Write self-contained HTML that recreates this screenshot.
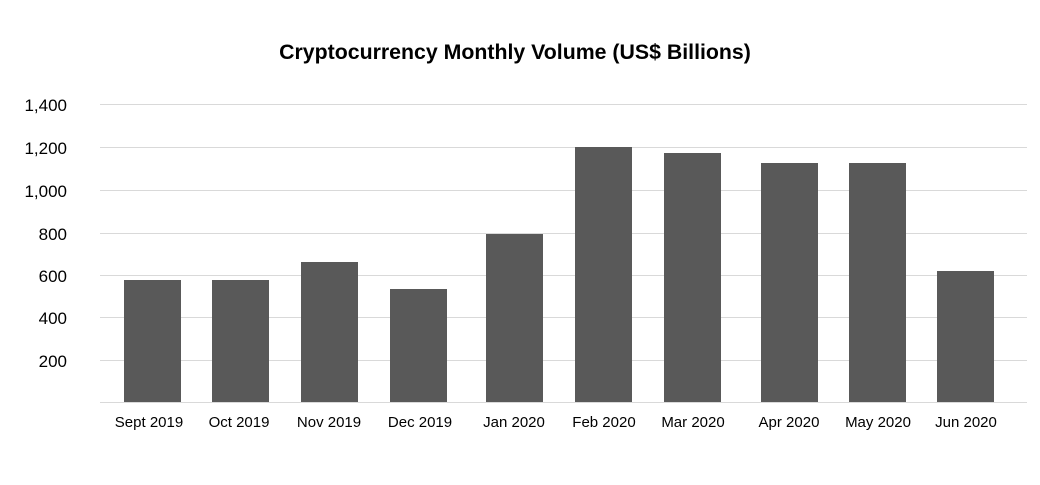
<!DOCTYPE html>
<html><head><meta charset="utf-8"><style>
body{margin:0;background:#fff;}
svg text{font-family:"Liberation Sans",sans-serif;fill:#000;}
</style></head><body>
<svg width="1040" height="480" xmlns="http://www.w3.org/2000/svg">
<rect width="1040" height="480" fill="#fff"/>
<text x="515" y="59" text-anchor="middle" font-size="21.3" font-weight="bold">Cryptocurrency Monthly Volume (US$ Billions)</text>
<g stroke="#d9d9d9" stroke-width="1">
<line x1="100" x2="1027" y1="104.5" y2="104.5"/>
<line x1="100" x2="1027" y1="147.5" y2="147.5"/>
<line x1="100" x2="1027" y1="190.5" y2="190.5"/>
<line x1="100" x2="1027" y1="233.5" y2="233.5"/>
<line x1="100" x2="1027" y1="275.5" y2="275.5"/>
<line x1="100" x2="1027" y1="317.5" y2="317.5"/>
<line x1="100" x2="1027" y1="360.5" y2="360.5"/>
<line x1="100" x2="1027" y1="402.5" y2="402.5"/>
</g>
<g font-size="17" text-anchor="end">
<text x="67" y="111">1,400</text>
<text x="67" y="154">1,200</text>
<text x="67" y="197">1,000</text>
<text x="67" y="240">800</text>
<text x="67" y="282">600</text>
<text x="67" y="324">400</text>
<text x="67" y="367">200</text>
</g>
<g fill="#595959">
<rect x="124" y="280" width="57" height="122"/>
<rect x="212" y="280" width="57" height="122"/>
<rect x="301" y="262" width="57" height="140"/>
<rect x="390" y="289" width="57" height="113"/>
<rect x="486" y="234" width="57" height="168"/>
<rect x="575" y="147" width="57" height="255"/>
<rect x="664" y="153" width="57" height="249"/>
<rect x="761" y="163" width="57" height="239"/>
<rect x="849" y="163" width="57" height="239"/>
<rect x="937" y="271" width="57" height="131"/>
</g>
<g font-size="15" text-anchor="middle">
<text x="149" y="427">Sept 2019</text>
<text x="239" y="427">Oct 2019</text>
<text x="329" y="427">Nov 2019</text>
<text x="420" y="427">Dec 2019</text>
<text x="514" y="427">Jan 2020</text>
<text x="604" y="427">Feb 2020</text>
<text x="693" y="427">Mar 2020</text>
<text x="789" y="427">Apr 2020</text>
<text x="878" y="427">May 2020</text>
<text x="966" y="427">Jun 2020</text>
</g>
</svg>
</body></html>
